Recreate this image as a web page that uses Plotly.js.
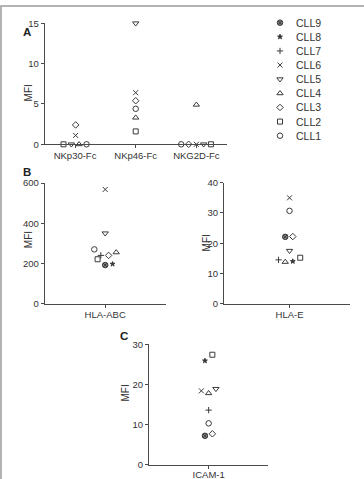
<!DOCTYPE html>
<html>
<head>
<meta charset="utf-8">
<script src="https://cdn.plot.ly/plotly-3.0.1.min.js"></script>
<style>html,body{margin:0;padding:0;background:#fff;}#chart{width:364px;height:479px;}</style>
</head>
<body>
<div id="chart"></div>
<script>
// ---------- DATA ----------
const cllNames = ['CLL1','CLL2','CLL3','CLL4','CLL5','CLL6','CLL7','CLL8','CLL9'];

// Panel A: soluble receptor binding (CLL1..CLL6)
const receptorsA = ['NKp30-Fc','NKp46-Fc','NKG2D-Fc'];
const nkp30 = [0, 0, 2.4, 0, 0, 1.1];
const nkp46 = [4.4, 1.6, 5.4, 3.3, 15.0, 6.4];
const nkg2d = [0, 0, 0, 4.9, 0, 0];
// horizontal scatter offsets within a category (as in the figure)
const nkp30Offset = [0.19, -0.19, 0.01, 0.066, -0.06, 0.01];
const nkp46Offset = [0, 0, 0, 0, 0, 0];
const nkg2dOffset = [-0.25, 0.24, -0.127, 0, 0.12, 0];

// Panel B: HLA-ABC and HLA-E (CLL1..CLL9)
const hlaAbc = [270, 221, 240, 255, 350, 568, 240, 197, 192];
const hlaAbcOffset = [-0.09, -0.063, 0.028, 0.091, 0, 0, -0.036, 0.061, 0];
const hlaE = [30.7, 15.2, 22.2, 13.8, 17.5, 35.0, 14.5, 14.0, 22.1];
const hlaEOffset = [0, 0.085, 0.026, -0.034, 0, 0, -0.087, 0.026, -0.034];

// Panel C: ICAM-1 (CLL1..CLL9)
const icam1 = [10.3, 27.4, 7.7, 17.8, 18.9, 18.4, 13.6, 25.9, 7.2];
const icam1Offset = [0, 0.031, 0.031, 0, 0.061, -0.061, 0, -0.031, -0.031];

// ---------- STYLE ----------
const W = 364, H = 479;
const FONT = 'Liberation Sans, Arial, Helvetica, sans-serif';
const MARK = '#3a3a3a';
const AX = '#4a4a4a';
const TXT = '#333';
const symbols = ['circle-open','square-open','diamond-open','triangle-up-open','triangle-down-open',
                 'x-thin-open','cross-thin-open','star','circle-x'];
const sizes = [5.5,5,5,5.5,5.5,5,4.5,3.6,5.5];

const px = v => v / W;
const py = v => (H - v) / H;

function markerFor(i) {
  if (symbols[i] === 'circle-x') {
    return {symbol: symbols[i], size: sizes[i], color: '#8a8a8a', line: {color: '#333', width: 1}};
  }
  return {symbol: symbols[i], size: sizes[i], color: MARK, line: {color: MARK, width: 1}};
}

const traces = [];
function addPanel(values, offsets, catIndex, xa, ya, nSeries) {
  for (let i = 0; i < nSeries; i++) {
    traces.push({
      type: 'scatter', mode: 'markers',
      x: [catIndex + offsets[i]], y: [values[i]],
      xaxis: xa, yaxis: ya, name: cllNames[i],
      showlegend: false, cliponaxis: false, hoverinfo: 'name+y',
      marker: markerFor(i)
    });
  }
}
addPanel(nkp30, nkp30Offset, 0, 'x', 'y', 6);
addPanel(nkp46, nkp46Offset, 1, 'x', 'y', 6);
addPanel(nkg2d, nkg2dOffset, 2, 'x', 'y', 6);
addPanel(hlaAbc, hlaAbcOffset, 0, 'x2', 'y2', 9);
addPanel(hlaE, hlaEOffset, 0, 'x3', 'y3', 9);
addPanel(icam1, icam1Offset, 0, 'x4', 'y4', 9);

// custom legend (CLL9 at top .. CLL1 at bottom)
for (let i = 0; i < 9; i++) {
  traces.push({
    type: 'scatter', mode: 'markers', x: [0], y: [i + 1],
    xaxis: 'x5', yaxis: 'y5', showlegend: false, cliponaxis: false, hoverinfo: 'skip',
    marker: markerFor(i)
  });
}

function xAxis(dom, anchor, tickvals, ticktext, range, standoff) {
  return {domain: dom, anchor: anchor, range: range, tickvals: tickvals, ticktext: ticktext,
    showline: true, linecolor: AX, linewidth: 1, ticks: 'outside', ticklen: 3, tickcolor: AX,
    showgrid: false, zeroline: false, fixedrange: true, ticklabelstandoff: standoff,
    tickfont: {family: FONT, size: 9.5, color: TXT}};
}
function yAxis(dom, anchor, range, dtick) {
  return {domain: dom, anchor: anchor, range: range, dtick: dtick,
    showline: true, linecolor: AX, linewidth: 1, ticks: 'outside', ticklen: 3, tickcolor: AX,
    showgrid: false, zeroline: false, fixedrange: true,
    tickfont: {family: FONT, size: 9.5, color: TXT}};
}

const annotations = [];
function ann(text, x, y, opts) {
  annotations.push(Object.assign({text: text, x: px(x), y: py(y), xref: 'paper', yref: 'paper',
    showarrow: false, font: {family: FONT, size: 10, color: TXT}}, opts || {}));
}
ann('<b>A</b>', 21, 23.5, {font: {family: FONT, size: 11.5, color: '#222'}});
ann('<b>B</b>', 20.5, 172, {font: {family: FONT, size: 11.5, color: '#222'}});
ann('<b>C</b>', 123.5, 343.5, {font: {family: FONT, size: 11.5, color: '#222'}});
ann('MFI', 20.7, 82.7, {textangle: -90});
ann('MFI', 20.7, 240, {textangle: -90});
ann('MFI', 206.7, 242.7, {textangle: -90});
ann('MFI', 125.7, 403.3, {textangle: -90});
for (let i = 0; i < 9; i++) {
  annotations.push({text: cllNames[i], x: 0.7, y: i + 1, xref: 'x5', yref: 'y5',
    xanchor: 'left', yanchor: 'middle', showarrow: false,
    font: {family: FONT, size: 10.5, color: TXT}});
}

const layout = {
  width: W, height: H, margin: {l: 0, r: 0, t: 0, b: 0},
  paper_bgcolor: '#fff', plot_bgcolor: 'rgba(0,0,0,0)', showlegend: false,
  xaxis: xAxis([px(44.7), px(226.7)], 'y', [0, 1, 2], receptorsA, [-0.5, 2.5], -1),
  yaxis: yAxis([py(144.3), py(23.3)], 'x', [0, 15], 5),
  xaxis2: xAxis([px(44.7), px(165.7)], 'y2', [0], ['HLA-ABC'], [-0.5, 0.5], -1),
  yaxis2: yAxis([py(303.7), py(183)], 'x2', [0, 600], 200),
  xaxis3: xAxis([px(224), px(350)], 'y3', [0], ['HLA-E'], [-0.52, 0.48], -1),
  yaxis3: yAxis([py(303.7), py(182.7)], 'x3', [0, 40], 10),
  xaxis4: xAxis([px(149), px(268.3)], 'y4', [0], ['ICAM-1'], [-0.5, 0.5], -2),
  yaxis4: yAxis([py(464.7), py(344.3)], 'x4', [0, 30], 10),
  xaxis5: {domain: [px(280), px(300)], anchor: 'y5', range: [0, 1], visible: false, fixedrange: true},
  yaxis5: {domain: [py(135.7), py(22.7)], anchor: 'x5', range: [1, 9], visible: false, fixedrange: true},
  annotations: annotations,
  shapes: [{type: 'rect', xref: 'paper', yref: 'paper', x0: px(1), x1: 1.02, y0: -0.02, y1: py(6),
            line: {color: '#9a9a9a', width: 1.5}}]
};

Plotly.newPlot('chart', traces, layout, {staticPlot: true, displayModeBar: false});
</script>
</body>
</html>
